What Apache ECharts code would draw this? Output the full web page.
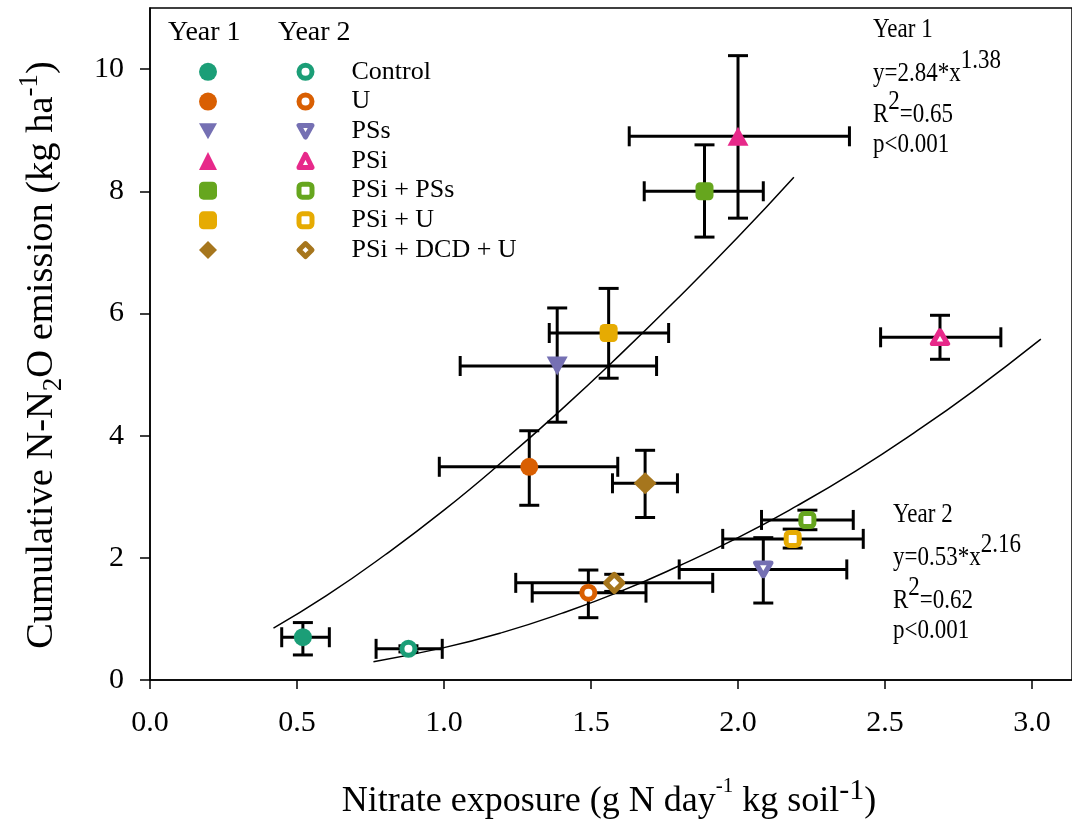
<!DOCTYPE html>
<html>
<head>
<meta charset="utf-8">
<title>Cumulative N2O vs nitrate exposure</title>
<script src="https://cdn.jsdelivr.net/npm/echarts@6/dist/echarts.min.js"></script>
<style>
  html, body { margin: 0; padding: 0; background: #fff; }
  #main { width: 1072px; height: 826px; }
</style>
</head>
<body>
<div id="main"></div>
<script>
  // treatments, same order in both years
  var treatments = ['Control', 'U', 'PSs', 'PSi', 'PSi + PSs', 'PSi + U', 'PSi + DCD + U'];

  // Year 1 (filled symbols): means and error bar ends
  var y1X = [0.52, 1.29, 1.385, 2.0, 1.886, 1.56, 1.684];
  var y1Y = [0.70, 3.49, 5.14, 8.9, 8.0, 5.68, 3.22];
  var y1XLow = [0.448, 0.984, 1.055, 1.63, 1.681, 1.358, 1.573];
  var y1XHigh = [0.61, 1.591, 1.723, 2.379, 2.086, 1.764, 1.794];
  var y1YLow = [0.41, 2.86, 4.22, 7.56, 7.25, 4.94, 2.66];
  var y1YHigh = [0.94, 4.08, 6.09, 10.22, 8.76, 6.41, 3.76];

  // Year 2 (open symbols)
  var y2X = [0.879, 1.491, 2.086, 2.687, 2.236, 2.186, 1.579];
  var y2Y = [0.51, 1.43, 1.81, 5.61, 2.62, 2.31, 1.59];
  var y2XLow = [0.769, 1.300, 1.80, 2.485, 2.08, 1.948, 1.244];
  var y2XHigh = [0.994, 1.687, 2.37, 2.894, 2.392, 2.426, 1.914];
  var y2YLow = [0.46, 1.02, 1.26, 5.25, 2.46, 2.16, 1.45];
  var y2YHigh = [0.56, 1.80, 2.33, 5.97, 2.78, 2.47, 1.73];

  // fitted curves, points
  var fit1X = [0.42, 0.6, 0.8, 1.0, 1.2, 1.4, 1.6, 1.8, 2.0, 2.19];
  var fit1Y = [0.85, 1.38, 2.05, 2.78, 3.58, 4.43, 5.33, 6.27, 7.25, 8.23];
  var fit2X = [0.76, 1.0, 1.2, 1.4, 1.6, 1.8, 2.0, 2.2, 2.4, 2.6, 2.8, 3.03];
  var fit2Y = [0.30, 0.53, 0.78, 1.09, 1.45, 1.87, 2.33, 2.85, 3.42, 4.05, 4.73, 5.58];

  var xTicks = [0, 0.5, 1.0, 1.5, 2.0, 2.5, 3.0];
  var yTicks = [0, 2, 4, 6, 8, 10];

  var colors = ['#1b9e77', '#d95f02', '#7570b3', '#e7298a', '#66a61e', '#e6ab02', '#a6761d'];
  var symbols = ['circle', 'circle', 'triangle', 'triangle', 'roundRect', 'roundRect', 'diamond'];
  var rotations = [0, 0, 180, 0, 0, 0, 0];
  var filledSize = [18, 18, [21, 19], [21, 19], 18, 18, [23, 22]];
  var openSize = [13, 13, [15, 13], [15, 13], 13, 13, [17, 17]];
  // legend icons: the rotated triangle needs its own path
  var legendIcons = ['circle', 'circle', 'path://M0,0L10,0L5,9Z', 'triangle', 'roundRect', 'roundRect', 'diamond'];

  var FONT = '"Liberation Serif", "Times New Roman", serif';
  var Y2 = ' (Year 2)';

  function zip() {
    var cols = Array.prototype.slice.call(arguments);
    return cols[0].map(function (v, i) {
      return cols.map(function (c) { return c[i]; });
    });
  }

  // error bars: [x, y, xLow, xHigh, yLow, yHigh]
  function renderErrorBars(params, api) {
    var c = api.coord([api.value(0), api.value(1)]);
    var l = api.coord([api.value(2), api.value(1)]);
    var r = api.coord([api.value(3), api.value(1)]);
    var lo = api.coord([api.value(0), api.value(4)]);
    var hi = api.coord([api.value(0), api.value(5)]);
    var cap = 10;
    var style = { stroke: '#000', lineWidth: 3 };
    function seg(x1, y1, x2, y2) {
      return { type: 'line', shape: { x1: x1, y1: y1, x2: x2, y2: y2 }, style: style };
    }
    return {
      type: 'group',
      children: [
        seg(l[0], c[1], r[0], c[1]),
        seg(l[0], c[1] - cap, l[0], c[1] + cap),
        seg(r[0], c[1] - cap, r[0], c[1] + cap),
        seg(c[0], lo[1], c[0], hi[1]),
        seg(c[0] - cap, lo[1], c[0] + cap, lo[1]),
        seg(c[0] - cap, hi[1], c[0] + cap, hi[1])
      ]
    };
  }

  // text with an optional superscript, drawn a bit taller like the original
  function supText(x, y, main, sup, rest) {
    var text = '{m|' + main + '}';
    if (sup) text += '{s|' + sup + '}';
    if (rest) text += '{m|' + rest + '}';
    return {
      type: 'text', x: x, y: y, scaleY: 1.2, z: 100,
      style: {
        text: text,
        fill: '#000', verticalAlign: 'middle',
        rich: {
          m: { fontFamily: FONT, fontSize: 23, padding: [11, 0, 0, 0], verticalAlign: 'bottom' },
          s: { fontFamily: FONT, fontSize: 23, verticalAlign: 'top' }
        }
      }
    };
  }

  var series = [];
  series.push({
    type: 'line', name: 'fit1', data: zip(fit1X, fit1Y), smooth: true, showSymbol: false,
    lineStyle: { color: '#000', width: 1.5 }, z: 1, silent: true
  });
  series.push({
    type: 'line', name: 'fit2', data: zip(fit2X, fit2Y), smooth: true, showSymbol: false,
    lineStyle: { color: '#000', width: 1.5 }, z: 1, silent: true
  });
  series.push({
    type: 'custom', name: 'err1', renderItem: renderErrorBars, z: 2,
    encode: { x: [0, 2, 3], y: [1, 4, 5] },
    data: zip(y1X, y1Y, y1XLow, y1XHigh, y1YLow, y1YHigh)
  });
  series.push({
    type: 'custom', name: 'err2', renderItem: renderErrorBars, z: 2,
    encode: { x: [0, 2, 3], y: [1, 4, 5] },
    data: zip(y2X, y2Y, y2XLow, y2XHigh, y2YLow, y2YHigh)
  });

  treatments.forEach(function (t, i) {
    series.push({
      type: 'scatter', name: t, symbol: symbols[i], symbolRotate: rotations[i],
      symbolSize: filledSize[i], z: 5,
      itemStyle: { color: colors[i], opacity: 1 },
      data: [[y1X[i], y1Y[i]]]
    });
    series.push({
      type: 'scatter', name: t + Y2, symbol: symbols[i], symbolRotate: rotations[i],
      symbolSize: openSize[i], z: 5,
      itemStyle: { color: '#fff', borderColor: colors[i], borderWidth: 5, borderJoin: 'round', opacity: 1 },
      data: [[y2X[i], y2Y[i]]]
    });
  });

  var legendText = { fontFamily: FONT, fontSize: 26, lineHeight: 29.7, color: '#000' };

  function legendItems(suffix) {
    return treatments.map(function (t, i) {
      return { name: t + suffix, icon: legendIcons[i] };
    });
  }

  var chart = echarts.init(document.getElementById('main'));
  chart.setOption({
    animation: false,
    backgroundColor: '#fff',
    grid: { left: 150, top: 8, right: 0, bottom: 146, show: true, borderColor: '#000', borderWidth: 1.5 },
    xAxis: {
      type: 'value', min: 0, max: 3.136,
      axisLine: { lineStyle: { color: '#000', width: 1.5 } },
      axisTick: { customValues: xTicks, length: 9, lineStyle: { color: '#000', width: 1.5 } },
      axisLabel: {
        customValues: xTicks, formatter: function (v) { return v.toFixed(1); },
        fontFamily: FONT, fontSize: 30, color: '#000', margin: 28
      },
      splitLine: { show: false },
      name: '{t|Nitrate exposure (g N day}{a|-1}{t| kg soil}{b|-1}{t|)}',
      nameLocation: 'middle', nameGap: 96,
      nameTextStyle: {
        padding: [0, 4, 0, 0],
        rich: {
          t: { fontFamily: FONT, fontSize: 36, color: '#000', padding: [8, 0, 0, 0], verticalAlign: 'bottom' },
          a: { fontFamily: FONT, fontSize: 21, color: '#000', verticalAlign: 'top' },
          b: { fontFamily: FONT, fontSize: 30, color: '#000', verticalAlign: 'top' }
        }
      }
    },
    yAxis: {
      type: 'value', min: 0, max: 11,
      axisLine: { lineStyle: { color: '#000', width: 1.5 } },
      axisTick: { customValues: yTicks, length: 10, lineStyle: { color: '#000', width: 1.5 } },
      axisLabel: { customValues: yTicks, fontFamily: FONT, fontSize: 30, color: '#000', margin: 26 },
      splitLine: { show: false },
      name: '{t|Cumulative N-N}{d|2}{t|O emission (kg ha}{u|-1}{t|)}',
      nameLocation: 'middle', nameGap: 83,
      nameTextStyle: {
        padding: [0, 22, 0, 0],
        rich: {
          t: { fontFamily: FONT, fontSize: 38.5, color: '#000', padding: [6, 0, 6, 0] },
          u: { fontFamily: FONT, fontSize: 27, color: '#000', verticalAlign: 'top' },
          d: { fontFamily: FONT, fontSize: 27, color: '#000', verticalAlign: 'bottom' }
        }
      }
    },
    legend: [
      {
        data: legendItems(''), orient: 'vertical', left: 199, top: 57, padding: 0, itemGap: 0,
        itemWidth: 18, itemHeight: 18, selectedMode: false,
        formatter: function () { return ' '; },
        textStyle: legendText
      },
      {
        data: legendItems(Y2),
        orient: 'vertical', left: 296.5, top: 57, padding: 0, itemGap: 0,
        itemWidth: 13, itemHeight: 13, selectedMode: false,
        itemStyle: { borderWidth: 5, borderJoin: 'round' },
        formatter: function (name) { return name.replace(Y2, ''); },
        textStyle: Object.assign({ padding: [0, 0, 0, 34.5] }, legendText)
      }
    ],
    graphic: [
      { type: 'text', x: 168, y: 33, style: { text: 'Year 1', fontFamily: FONT, fontSize: 28, fill: '#000', verticalAlign: 'middle' } },
      { type: 'text', x: 278, y: 33, style: { text: 'Year 2', fontFamily: FONT, fontSize: 28, fill: '#000', verticalAlign: 'middle' } },
      supText(873, 23, 'Year 1'),
      supText(873, 67, 'y=2.84*x', '1.38'),
      supText(873, 108, 'R', '2', '=0.65'),
      supText(873, 138, 'p<0.001'),
      supText(893, 508, 'Year 2'),
      supText(893, 551, 'y=0.53*x', '2.16'),
      supText(893, 594, 'R', '2', '=0.62'),
      supText(893, 624, 'p<0.001')
    ],
    series: series
  });
</script>
</body>
</html>
